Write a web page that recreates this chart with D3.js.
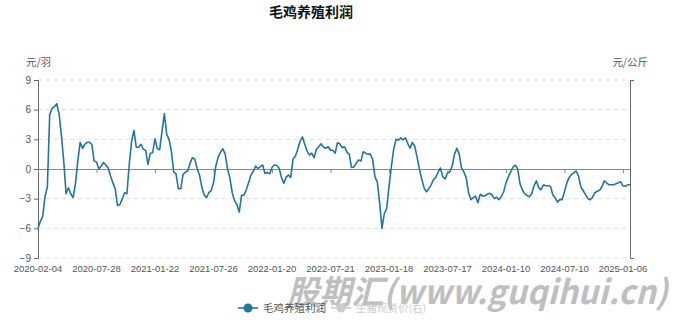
<!DOCTYPE html>
<html>
<head>
<meta charset="utf-8">
<script src="https://cdn.jsdelivr.net/npm/d3@7"></script>
<style>
  body { margin: 0; background: #fff; }
  text { font-family: 'Noto Sans CJK SC', 'Noto Sans', sans-serif; }
</style>
</head>
<body>
<div id="canvas"></div>
<script>
// weekly profit per bird
const profit = [
  -6.0, -5.3, -4.8, -2.8, -1.8, 5.5, 6.1, 6.3, 6.6, 5.6,
  3.4, 0.8, -2.5, -1.9, -2.5, -2.9, -1.5, 0.8, 2.7, 2.1,
  2.5, 2.7, 2.7, 2.5, 0.8, 0.7, 0.0, 0.3, 0.65, 0.4,
  0.1, -0.7, -1.4, -2.0, -3.7, -3.6, -3.05, -2.4, -2.5, 0.5,
  2.8, 3.9, 2.2, 2.2, 2.5, 2.0, 1.9, 0.45, 1.6, 1.65,
  3.05, 2.05, 1.95, 3.8, 5.6, 3.5, 3.0, 1.8, -0.3, -0.5,
  -2.0, -2.0, -0.55, -0.3, -0.2, 0.6, 1.15, 1.0, 0.05, -0.6,
  -1.8, -2.6, -2.9, -2.4, -2.2, -1.4, 0.3, 1.2, 1.7, 2.05,
  1.5, 0.0, -0.9, -2.4, -3.2, -3.6, -4.35, -2.65, -2.65, -2.1,
  -1.4, -0.6, -0.25, 0.3, 0.05, 0.25, 0.4, -0.45, -0.35, -0.5,
  0.15, 0.4, 0.35, 0.1, -0.8, -1.45, -0.85, -0.6, -0.85, 1.0,
  1.3, 2.0, 2.8, 3.25, 2.5, 1.8, 1.4, 1.6, 1.15, 2.0,
  2.25, 2.55, 2.2, 2.1, 2.25, 1.9, 1.9, 1.6, 2.65, 2.55,
  2.15, 2.25, 1.7, 1.5, 0.15, 0.2, 0.6, 0.9, 0.8, 1.75,
  1.6, 1.5, 1.5, 1.0, -0.8, -1.3, -3.4, -6.0, -4.5, -4.0,
  -1.8, 0.2, 2.0, 3.0, 2.9, 3.15, 2.95, 3.15, 2.6, 2.1,
  2.7, 2.3, 1.2, 0.0, -1.0, -1.9, -2.3, -2.0, -1.6, -1.1,
  -0.85, -0.3, 0.1, -0.8, -1.0, -0.4, -0.3, 0.3, 1.5, 2.1,
  1.5, 0.1, -0.3, -0.9, -2.4, -3.1, -2.9, -2.75, -3.4, -2.55,
  -2.75, -2.7, -2.55, -2.45, -2.6, -3.0, -2.85, -3.1, -2.8, -2.3,
  -1.4, -0.8, -0.3, 0.2, 0.4, 0.0, -1.5, -2.1, -2.5, -2.7,
  -2.8, -2.5, -1.7, -1.2, -1.9, -2.1, -1.6, -1.7, -1.7, -1.75,
  -2.6, -2.9, -3.35, -3.1, -3.1, -2.3, -1.4, -0.85, -0.55, -0.4,
  -0.2, -0.7, -1.8, -2.2, -2.6, -3.0, -3.1, -2.85, -2.4, -2.25,
  -2.15, -1.8, -1.2, -1.4, -1.6, -1.6, -1.6, -1.5, -1.4, -1.3,
  -1.7, -1.75, -1.6, -1.6
];

const date_labels = ['2020-02-04', '2020-07-28', '2021-01-22', '2021-07-26', '2022-01-20',
  '2022-07-21', '2023-01-18', '2023-07-17', '2024-01-10', '2024-07-10', '2025-01-06'];
const label_step = 25;
const y_ticks = [-9, -6, -3, 0, 3, 6, 9];
const legend_names = ['毛鸡养殖利润', '生猪现货价(右)'];

const w = 686,
    h = 321,
    plot_left = 38,
    plot_right = 630,
    plot_top = 80,
    plot_bottom = 258,
    line_color = '#23759f',
    axis_color = '#666',
    label_color = '#555',
    num_font = 'Liberation Sans, Arial, sans-serif';

const svg = d3.select('#canvas').append('svg')
    .attr('width', w)
    .attr('height', h);

const x = d3.scaleLinear()
    .domain([0, profit.length - 1])
    .range([plot_left, plot_right]);

const y = d3.scaleLinear()
    .domain([-9, 9])
    .range([plot_bottom, plot_top]);

// Title and units
svg.append('text')
    .attr('x', 311)
    .attr('y', 17)
    .attr('text-anchor', 'middle')
    .style('font-size', '14px')
    .style('font-weight', 'bold')
    .attr('fill', '#111')
    .text('毛鸡养殖利润');

svg.append('text')
    .attr('x', 26)
    .attr('y', 66)
    .style('font-size', '10.5px')
    .attr('fill', label_color)
    .text('元/羽');

svg.append('text')
    .attr('x', 648)
    .attr('y', 66)
    .attr('text-anchor', 'end')
    .style('font-size', '10.5px')
    .attr('fill', label_color)
    .text('元/公斤');

// Dashed grid lines
svg.append('g')
    .selectAll('line')
    .data(y_ticks.filter(d => d !== 0))
    .join('line')
    .attr('x1', plot_left)
    .attr('x2', plot_right)
    .attr('y1', d => y(d))
    .attr('y2', d => y(d))
    .attr('stroke', '#ddd')
    .attr('stroke-dasharray', '4,4');

// Left axis
const y_axis = d3.axisLeft(y)
    .tickValues(y_ticks)
    .tickSize(4)
    .tickSizeOuter(4);

svg.append('g')
    .attr('transform', 'translate(' + plot_left + ',0)')
    .call(y_axis)
    .call(g => g.select('.domain').attr('stroke', axis_color))
    .call(g => g.selectAll('.tick line').attr('stroke', axis_color))
    .call(g => g.selectAll('.tick text')
        .attr('fill', label_color)
        .style('font-size', '10px')
        .style('font-family', num_font));

// Right axis, no labels
svg.append('g')
    .attr('transform', 'translate(' + plot_right + ',0)')
    .call(d3.axisRight(y).tickValues(y_ticks).tickSize(0).tickSizeOuter(4).tickFormat(''))
    .call(g => g.select('.domain').attr('stroke', axis_color));

// Category axis on zero line
const x_axis = d3.axisBottom(x)
    .tickValues(date_labels.map((d, i) => i * label_step))
    .tickSize(4)
    .tickSizeOuter(0)
    .tickFormat('');

svg.append('g')
    .attr('transform', 'translate(0,' + y(0) + ')')
    .call(x_axis)
    .call(g => g.select('.domain').attr('stroke', '#888'))
    .call(g => g.selectAll('.tick line').attr('stroke', '#888'));

svg.append('g')
    .selectAll('text')
    .data(date_labels)
    .join('text')
    .attr('x', (d, i) => x(i * label_step))
    .attr('y', 272)
    .attr('text-anchor', 'middle')
    .attr('fill', label_color)
    .style('font-size', '9.5px')
    .style('font-family', num_font)
    .text(d => d);

// Profit line
const line = d3.line()
    .x((d, i) => x(i))
    .y(d => y(d));

svg.append('path')
    .datum(profit)
    .attr('d', line)
    .attr('fill', 'none')
    .attr('stroke', line_color)
    .attr('stroke-width', 1.6)
    .attr('stroke-linejoin', 'round');

// Watermark
svg.append('text')
    .attr('x', 287)
    .attr('y', 304)
    .attr('textLength', 381)
    .attr('lengthAdjust', 'spacingAndGlyphs')
    .style('font-size', '33px')
    .style('font-weight', 'bold')
    .style('font-style', 'italic')
    .attr('fill', '#b4b4b4')
    .attr('opacity', 0.85)
    .text('股期汇(www.guqihui.cn)');

// Legend
const legend = svg.append('g');
const legend_colors = [line_color, '#ccc'];
const legend_x = [238, 331];

legend_names.forEach((name, i) => {
    const g = legend.append('g').attr('transform', 'translate(' + legend_x[i] + ',308)');
    g.append('line')
        .attr('x1', 0).attr('x2', 20)
        .attr('stroke', legend_colors[i])
        .attr('stroke-width', 1.6);
    g.append('circle')
        .attr('cx', 10)
        .attr('r', 4.5)
        .attr('fill', legend_colors[i]);
    g.append('text')
        .attr('x', 25)
        .attr('y', 4)
        .style('font-size', '10.5px')
        .attr('fill', i === 0 ? label_color : '#ccc')
        .text(name);
});
</script>
</body>
</html>
